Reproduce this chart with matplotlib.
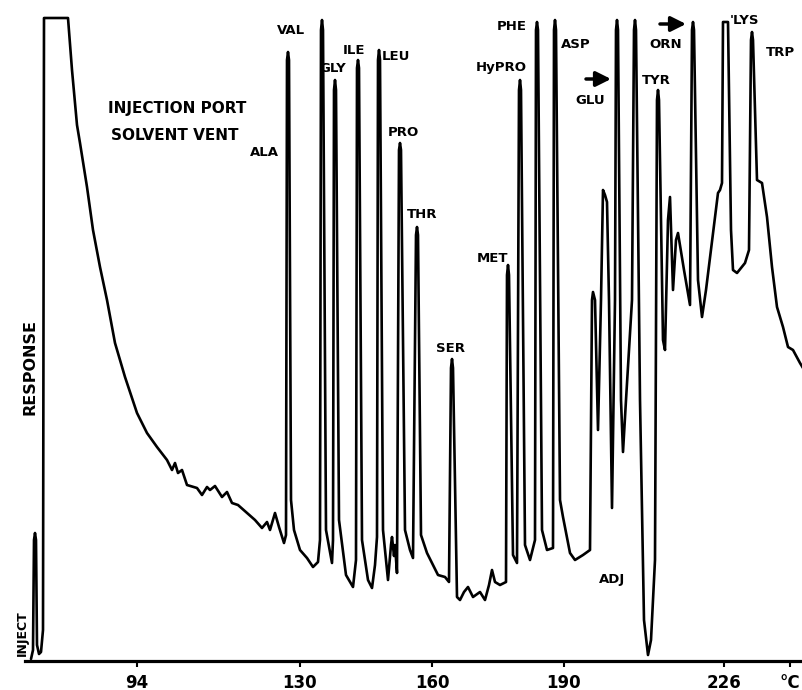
import matplotlib
matplotlib.use("Agg")
import matplotlib.pyplot as plt

# Chromatogram trace (retention in arbitrary units, response in arbitrary units)
retention = [4, 6, 7, 8, 9, 10, 12, 14, 16, 17, 41, 45, 50, 53, 60, 66, 73, 80, 88, 98,
             110, 120, 130, 140, 145, 148, 151, 155, 160, 170, 175, 180, 183, 188, 195, 200,
             205, 211, 220, 228, 235, 240, 243, 248, 252, 257, 259, 260, 261, 262, 264, 267,
             273, 280, 286, 291, 293, 294, 295, 296, 299, 305, 306, 307, 308, 309, 312, 319,
             326, 329, 330, 331, 332, 335, 341, 345, 348, 350, 351, 352, 353, 356, 361, 364,
             365, 367, 368, 370, 372, 373, 374, 378, 383, 386, 389, 390, 391, 394, 400, 406,
             411, 418, 422, 424, 425, 426, 430, 433, 437, 441, 446, 453, 458, 462, 465, 468,
             473, 479, 480, 481, 482, 486, 490, 492, 493, 494, 498, 503, 508, 509, 510, 511,
             515, 520, 526, 527, 528, 529, 533, 536, 543, 548, 556, 563, 565, 566, 568, 571,
             574, 576, 578, 580, 582, 585, 588, 589, 590, 591, 594, 596, 599, 605, 607, 608,
             609, 613, 617, 621, 624, 628, 630, 631, 632, 636, 638, 641, 643, 646, 649, 651,
             657, 663, 665, 666, 667, 671, 675, 679, 686, 691, 693, 695, 696, 701, 704, 706,
             710, 718, 722, 724, 725, 726, 730, 735, 740, 745, 750, 756, 761, 766, 773, 776]
response = [2, 11, 121, 128, 121, 16, 7, 9, 31, 643, 643, 591, 536, 518, 474, 431, 394, 361, 318, 284,
            248, 228, 214, 201, 191, 198, 188, 191, 176, 173, 166, 174, 171, 175, 164, 169,
            158, 156, 148, 141, 133, 139, 131, 148, 134, 118, 126, 601, 609, 601, 161, 131,
            111, 103, 94, 99, 121, 631, 641, 631, 131, 98, 121, 571, 581, 571, 141, 86,
            74, 101, 593, 601, 593, 121, 81, 73, 96, 124, 601, 611, 601, 131, 81, 116,
            124, 105, 116, 88, 511, 518, 511, 131, 111, 103, 426, 434, 426, 126, 108, 96,
            86, 84, 79, 293, 302, 293, 64, 61, 69, 74, 64, 69, 61, 76, 91, 79,
            76, 79, 386, 396, 386, 106, 98, 571, 581, 571, 116, 101, 121, 631, 639, 631,
            131, 111, 113, 631, 641, 631, 161, 144, 108, 101, 106, 111, 361, 369, 361, 231,
            361, 471, 466, 459, 361, 153, 361, 631, 641, 631, 261, 209, 261, 361, 631, 641,
            631, 261, 41, 6, 21, 101, 561, 571, 561, 321, 311, 441, 464, 371, 421, 428,
            391, 356, 631, 639, 631, 381, 344, 371, 428, 468, 471, 478, 639, 639, 431, 391,
            388, 398, 411, 621, 629, 621, 481, 478, 444, 394, 354, 334, 314, 311, 298, 293]

# Temperature tick labels along the retention axis
tick_positions = [110, 273, 405, 537, 697, 763]
tick_labels = ["94", "130", "160", "190", "226", "°C"]

# Peak labels
peak_names = ["VAL", "ALA", "GLY", "ILE", "LEU", "PRO", "THR", "SER", "MET", "HyPRO",
              "PHE", "ASP", "GLU", "TYR", "ORN", "'LYS", "TRP", "ADJ"]
peak_label_x = [264, 237, 306, 327, 369, 376, 395, 424, 466, 474,
                485, 549, 563, 629, 639, 718, 753, 585]
peak_label_y = [631, 509, 592, 610, 604, 529, 446, 313, 403, 593,
                634, 617, 561, 581, 616, 641, 608, 81]

fig = plt.figure(figsize=(8.03, 6.90), dpi=100)
ax = fig.add_axes([25 / 803, 29 / 690, 778 / 803, 661 / 690])
ax.plot(retention, response, color="black", lw=1.9, solid_joinstyle="round",
        solid_capstyle="round", clip_on=False)

ax.set_xlim(-2, 776)
ax.set_ylim(0, 661)
for side in ["left", "right", "top"]:
    ax.spines[side].set_visible(False)
ax.spines["bottom"].set_linewidth(2.3)
ax.set_yticks([])
ax.set_xticks(tick_positions)
ax.set_xticklabels(tick_labels, fontsize=12, fontweight="bold")
ax.tick_params(axis="x", direction="out", length=4, width=1.5, pad=5)

for name, x, y in zip(peak_names, peak_label_x, peak_label_y):
    ax.text(x, y, name, fontsize=9.5, fontweight="bold", ha="center", va="center")

ax.text(150, 552, "INJECTION PORT", fontsize=11, fontweight="bold", ha="center", va="center")
ax.text(148, 526, "SOLVENT VENT", fontsize=11, fontweight="bold", ha="center", va="center")
ax.text(3, 294, "RESPONSE", fontsize=11.5, fontweight="bold", rotation=90,
        ha="center", va="center", clip_on=False)
ax.text(-5, 28, "INJECT", fontsize=9, fontweight="bold", rotation=90,
        ha="center", va="center", clip_on=False)

arrow_props = dict(arrowstyle="-|>,head_length=0.9,head_width=0.45", lw=2.5, color="black",
                   shrinkA=0, shrinkB=0)
ax.annotate("", xy=(584, 582), xytext=(559, 582), arrowprops=arrow_props)
ax.annotate("", xy=(659, 637), xytext=(633, 637), arrowprops=arrow_props)

fig.savefig("out.png", dpi=100)
